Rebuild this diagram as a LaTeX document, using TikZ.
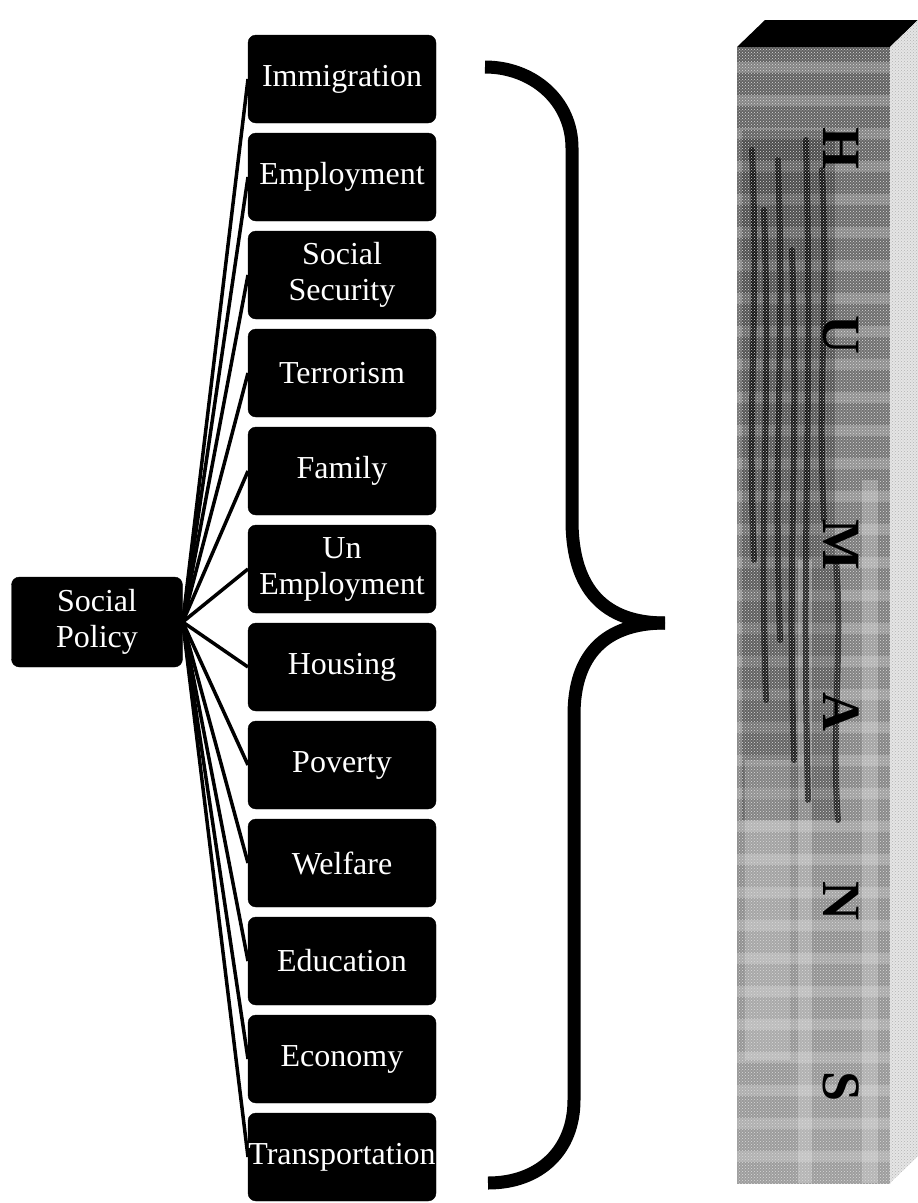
\documentclass[tikz,border=0pt]{standalone}
\usepackage{fontspec}
\setmainfont{Liberation Serif}
\usetikzlibrary{patterns}
\begin{document}
\begin{tikzpicture}[x=1pt,y=-1pt,line join=round]
	\tikzset{
		hop/.style={fill=black,draw=black,rounded corners=8pt,text=white,align=center,
			minimum width=188pt,minimum height=88pt,inner sep=0pt,
			font=\fontsize{32}{36}\selectfont},
		noi/.style={line width=3.5pt},
		ngoac/.style={line width=13pt},
		chucai/.style={font=\fontsize{54}{54}\bfseries\selectfont,rotate=-90,inner sep=0pt}
	}
	\useasboundingbox (0,0) rectangle (918,1203);
	
	%------------goc
	\node[hop,minimum width=171pt,minimum height=90pt] (sp) at (97,622) {Social\\Policy};
	
	%------------cac hop
	\foreach \ten/\nd [count=\i from 0] in {imm/Immigration,emp/Employment,ssec/Social\\Security,
		ter/Terrorism,fam/Family,unemp/Un\\Employment,hou/Housing,pov/Poverty,
		wel/Welfare,edu/Education,eco/Economy,tra/Transportation}{
		\draw[noi] (sp.east) -- (342-94,{79+98*\i});
		\node[hop] (\ten) at (342,{79+98*\i}) {\nd};
	}
	
	%------------ngoac
	\draw[ngoac] (485,67)
		..controls (532,67) and (572,100) .. (572,148)--(572,520)
		..controls (572,590) and (605,623) .. (665,623);
	\draw[ngoac] (665,623)
		..controls (605,623) and (574,655) .. (574,715)--(574,1100)
		..controls (574,1150) and (540,1183) .. (488,1183);
	
	%------------cot
	\shade[top color=black!62,bottom color=black!38] (737,47) rectangle (890,1183);
	\foreach \y in {62,95,...,1180}
		\fill[white,opacity=.22] (737,\y) rectangle (890,\y+11);
	\fill[black,opacity=.25] (742,130) rectangle (835,820);
	\fill[white,opacity=.25] (798,560) rectangle (812,1183);
	\fill[white,opacity=.25] (862,480) rectangle (878,1183);
	\fill[white,opacity=.2] (745,760) rectangle (790,1060);
	\foreach \x/\a/\b in {752/150/560,764/210/700,778/160/640,792/250/760,806/140/800,822/170/520,836/560/820}
		\draw[black,opacity=.7,line width=6pt,line cap=round] (\x,\a)
			..controls (\x+7,{(\a+\b)/2-40}) and (\x-5,{(\a+\b)/2+40}) .. (\x+2,\b);
	\fill[pattern=crosshatch dots,pattern color=white!85!black] (737,47) rectangle (890,1183);
	\fill[black] (737,47)--(765,20)--(918,20)--(890,47)--cycle;
	\fill[black!10] (890,47)--(918,20)--(918,1156)--(890,1183)--cycle;
	\fill[pattern=crosshatch dots,pattern color=black!30] (890,47)--(918,20)--(918,1156)--(890,1183)--cycle;
	
	%------------chu
	\foreach \l/\y in {H/148,U/335,M/545,A/712,N/901,S/1087}
		\node[chucai] (chu\l) at (841,\y) {\l};
\end{tikzpicture}
\end{document}
